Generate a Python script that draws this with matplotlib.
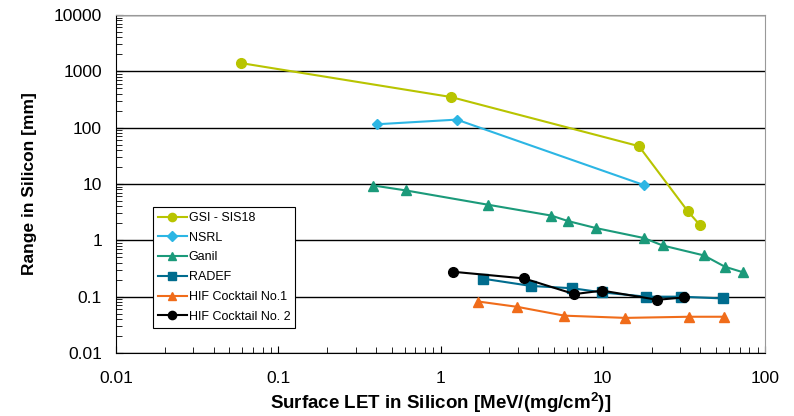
import numpy as np
import matplotlib
matplotlib.use("Agg")
import matplotlib.pyplot as plt
from matplotlib.ticker import LogLocator, NullFormatter, FixedLocator, FixedFormatter

plt.rcParams['font.family'] = ['Liberation Sans', 'DejaVu Sans']

# data
gsi_let = [0.059, 1.16, 16.7, 33.4, 39.8]
gsi_range = [1400, 350, 47, 3.3, 1.85]

nsrl_let = [0.407, 1.26, 17.9]
nsrl_range = [115, 139, 9.6]

ganil_let = [0.386, 0.61, 1.95, 4.82, 6.1, 9.09, 17.9, 23.4, 42, 56.6, 73.5]
ganil_range = [9.4, 7.7, 4.3, 2.75, 2.2, 1.65, 1.1, 0.81, 0.54, 0.34, 0.27]

radef_let = [1.84, 3.61, 6.5, 9.94, 18.5, 30.3, 54.8]
radef_range = [0.208, 0.155, 0.141, 0.119, 0.100, 0.100, 0.093]

hif1_let = [1.71, 2.97, 5.8, 13.8, 34, 55.9]
hif1_range = [0.082, 0.066, 0.046, 0.042, 0.044, 0.044]

hif2_let = [1.19, 3.27, 6.68, 9.94, 21.7, 31.8]
hif2_range = [0.277, 0.211, 0.111, 0.128, 0.088, 0.097]

series = [
    ("GSI - SIS18", gsi_let, gsi_range, "#b8c400", "o", 7),
    ("NSRL", nsrl_let, nsrl_range, "#2cb6e4", "D", 5.5),
    ("Ganil", ganil_let, ganil_range, "#1b9a7a", "^", 7.5),
    ("RADEF", radef_let, radef_range, "#006c8e", "s", 6.5),
    ("HIF Cocktail No.1", hif1_let, hif1_range, "#f06c1a", "^", 7.5),
    ("HIF Cocktail No. 2", hif2_let, hif2_range, "black", "o", 7),
]

fig = plt.figure(figsize=(7.94, 4.16), dpi=100)
ax = fig.add_axes([116/794, 1-353/416, (765-116)/794, (353-15)/416])

for name, x, y, c, m, ms in series:
    ax.plot(x, y, color=c, marker=m, markersize=ms, linewidth=1.5, label=name)

ax.set_xscale("log")
ax.set_yscale("log")
ax.set_xlim(0.01, 100)
ax.set_ylim(0.01, 10000)

ax.yaxis.set_major_locator(FixedLocator([0.01, 0.1, 1, 10, 100, 1000, 10000]))
ax.yaxis.set_major_formatter(FixedFormatter(["0.01", "0.1", "1", "10", "100", "1000", "10000"]))
ax.xaxis.set_major_locator(FixedLocator([0.01, 0.1, 1, 10, 100]))
ax.xaxis.set_major_formatter(FixedFormatter(["0.01", "0.1", "1", "10", "100"]))
ax.xaxis.set_minor_locator(LogLocator(base=10, subs=np.arange(2, 10), numticks=20))
ax.yaxis.set_minor_locator(LogLocator(base=10, subs=np.arange(2, 10), numticks=20))
ax.xaxis.set_minor_formatter(NullFormatter())
ax.yaxis.set_minor_formatter(NullFormatter())

ax.tick_params(which="both", direction="in", labelsize=12.5, top=False, right=False)
ax.tick_params(which="major", length=5, width=0.8)
ax.tick_params(which="minor", length=4, width=0.6)
ax.tick_params(axis="x", which="major", pad=13)
ax.tick_params(axis="y", which="major", pad=10)

ax.grid(axis="y", which="major", color="black", linewidth=1)
ax.set_axisbelow(True)
for side in ["top", "right"]:
    ax.spines[side].set_color("#999999")
for side in ["left", "bottom"]:
    ax.spines[side].set_color("black")

ax.set_xlabel("Surface LET in Silicon [MeV/(mg/cm$^\\mathregular{2}$)]", fontsize=13.5, fontweight="bold")
ax.set_ylabel("Range in Silicon [mm]", fontsize=12.5, fontweight="bold")
ax.xaxis.set_label_coords(0.5, (353-390)/338)
ax.yaxis.set_label_coords((37-116)/649, 0.5)

leg = ax.legend(loc="upper left", bbox_to_anchor=((153-116)/649, 1-(207-15)/338),
                borderaxespad=0, fontsize=9, frameon=True, fancybox=False,
                edgecolor="black", framealpha=1, borderpad=0.4, labelspacing=0.62,
                handlelength=2.3, handletextpad=0.15, markerscale=0.85)
leg.get_frame().set_linewidth(0.8)

plt.savefig("out.png", dpi=100)
